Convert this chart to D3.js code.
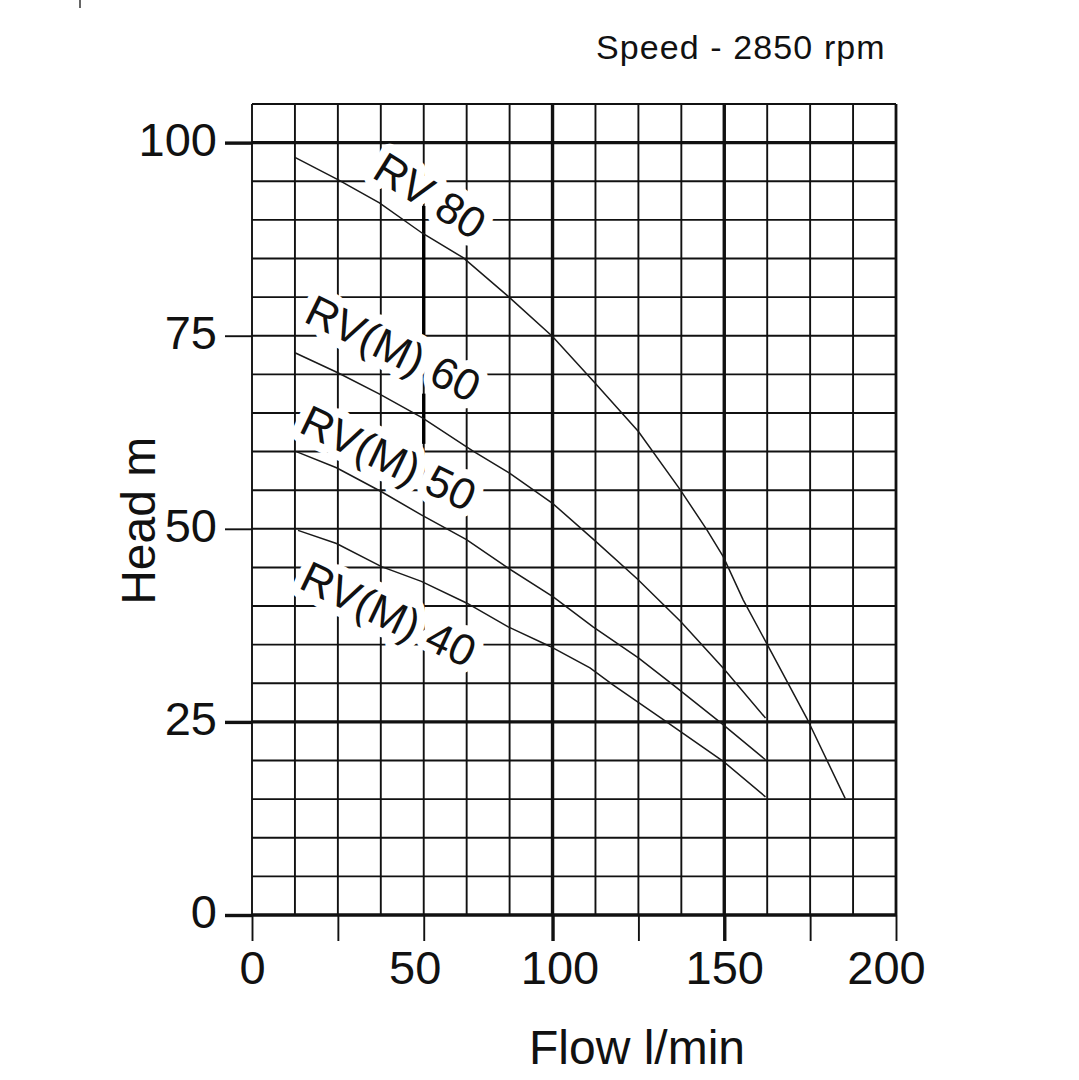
<!DOCTYPE html>
<html>
<head>
<meta charset="utf-8">
<script src="https://cdn.jsdelivr.net/npm/d3@7"></script>
<style>
  body { margin: 0; background: #fff; }
  text { font-family: "Liberation Sans", Arial, sans-serif; fill: #111; }
</style>
</head>
<body>
<svg id="chart" width="1079" height="1080"></svg>
<script>
// --- data ---
const flowLabels = [0, 50, 100, 150, 200];
const flowTickValues = [0, 25, 50, 100, 125, 150, 175, 200];
const headLabels = [0, 25, 50, 75, 100];
const seriesNames = ["RV 80", "RV(M) 60", "RV(M) 50", "RV(M) 40"];

// [flow l/min, head m]
const rv80 = [[12.5, 98.1], [25, 95.2], [37.1, 92.2], [49.5, 88.3], [65.3, 85.1], [82.8, 80.1],
  [100, 74.9], [112.3, 68.9], [125, 62.6], [137.1, 55.1], [144.9, 49.9], [149.7, 46.4],
  [155.5, 40.8], [162.3, 35.2], [174, 25.5], [185.2, 15.1]];
const rvm60 = [[12.5, 72.8], [25, 70.2], [37.3, 67.4], [49.5, 64.4], [69, 60.1], [83.3, 57.2],
  [100, 53.3], [112, 48.6], [124.7, 43.5], [137.3, 38], [149.8, 31.9], [162, 25.5]];
const rvm50 = [[12.9, 60.0], [24.6, 57.9], [37.7, 54.8], [49.3, 51.8], [66.6, 48.6], [82.8, 44.9],
  [100.2, 41.2], [111.8, 37.3], [125, 33.3], [135.1, 29.8], [149.2, 24.8], [162, 20.1]];
const rvm40 = [[13.4, 49.8], [24.6, 48.1], [37.7, 45.1], [49.3, 43.2], [66.6, 40.4], [82.8, 37.3],
  [98.9, 34.8], [110.9, 32.0], [117.6, 29.8], [133.2, 25.0], [149.7, 19.9], [162, 15.3]];

const curves = [rv80, rvm60, rvm50, rvm40];

const svg = d3.select("#chart");

// grid is 15 cells wide; the flow axis on the sheet is not uniform (50->100 spans 3 cells)
const cell = d3.scaleLinear().domain([0, 15]).range([252, 896]);
const x = d3.scaleLinear().domain([0, 50, 100, 200]).range([0, 4, 7, 15].map(cell));
const y = d3.scaleLinear().domain([0, 105]).range([915, 104]);

const grid = svg.append("g").attr("class", "grid");

// horizontal lines every 5 m
grid.selectAll(".hline")
  .data(d3.range(0, 106, 5))
  .enter().append("line")
  .attr("x1", cell(0)).attr("x2", cell(15))
  .attr("y1", d => y(d)).attr("y2", d => y(d))
  .attr("stroke", "#111")
  .attr("stroke-width", d => (d === 0 || d === 25 || d === 100) ? 3.4 : 1.9);

// vertical lines every cell
grid.selectAll(".vline")
  .data(d3.range(16))
  .enter().append("line")
  .attr("x1", d => cell(d)).attr("x2", d => cell(d))
  .attr("y1", y(105)).attr("y2", y(0))
  .attr("stroke", "#111")
  .attr("stroke-width", d => (d === 7 || d === 11) ? 3.4 : d === 15 ? 2.8 : 1.9);

// heavier piece of the 50 l/min line between the labels
grid.selectAll(".heavy")
  .data([[91.8, 75], [67.5, 61]])
  .enter().append("line")
  .attr("x1", x(50)).attr("x2", x(50))
  .attr("y1", d => y(d[0])).attr("y2", d => y(d[1]))
  .attr("stroke", "#000")
  .attr("stroke-width", 3.4);

// axes
const yAxis = svg.append("g")
  .attr("transform", `translate(${cell(0)},0)`)
  .call(d3.axisLeft(y).tickValues(headLabels).tickSize(27).tickPadding(8));
yAxis.select(".domain").remove();
yAxis.selectAll(".tick line").attr("stroke", "#111").attr("stroke-width", d => d === 75 || d === 50 ? 1.9 : 3.4);
yAxis.selectAll(".tick text")
  .attr("dy", "0.27em")
  .style("font-size", "47px")
  .attr("fill", "#111");

// the printed numbers sit a little off their ticks on the sheet
const labelNudge = { 50: -9, 100: 7, 200: -10 };
const xAxis = svg.append("g")
  .attr("transform", `translate(0,${y(0)})`)
  .call(d3.axisBottom(x).tickValues(flowTickValues).tickSize(26).tickPadding(10)
    .tickFormat(d => flowLabels.includes(d) ? d : ""));
xAxis.select(".domain").remove();
xAxis.selectAll(".tick line").attr("stroke", "#111")
  .attr("stroke-width", d => d === 100 || d === 150 ? 3.4 : 1.9);
xAxis.selectAll(".tick text")
  .attr("dx", d => labelNudge[d] || 0)
  .style("font-size", "47px")
  .attr("fill", "#111");

// curve labels with white knock-out behind them
const labelSpots = [
  { flow: 34.5, head: 95.6, angle: 32 },
  { flow: 14.6, head: 76.9, angle: 26 },
  { flow: 13.2, head: 62.6, angle: 25.5 },
  { flow: 13.2, head: 42.4, angle: 25.5 }
];
svg.append("g").selectAll("text")
  .data(seriesNames)
  .enter().append("text")
  .attr("transform", (d, i) => `translate(${x(labelSpots[i].flow)},${y(labelSpots[i].head)}) rotate(${labelSpots[i].angle})`)
  .style("font-size", "44px")
  .attr("stroke", "#fff")
  .attr("stroke-width", 18)
  .attr("stroke-linejoin", "round")
  .attr("paint-order", "stroke")
  .text(d => d);

// pump curves
const line = d3.line().x(d => x(d[0])).y(d => y(d[1]));
svg.append("g").selectAll("path")
  .data(curves)
  .enter().append("path")
  .attr("d", line)
  .attr("fill", "none")
  .attr("stroke", "#1a1a1a")
  .attr("stroke-width", 1.5);

// titles
svg.append("text")
  .attr("x", 596).attr("y", 59)
  .style("font-size", "34px")
  .style("letter-spacing", "1.1px")
  .text("Speed - 2850 rpm");

svg.append("text")
  .attr("transform", `translate(155,${y(50) - 8}) rotate(-90)`)
  .attr("text-anchor", "middle")
  .style("font-size", "48px")
  .text("Head m");

svg.append("text")
  .attr("x", 637).attr("y", 1064)
  .attr("text-anchor", "middle")
  .style("font-size", "48px")
  .text("Flow l/min");

// small stray mark at the top edge of the scan
svg.append("line")
  .attr("x1", 80).attr("x2", 80).attr("y1", 0).attr("y2", 8)
  .attr("stroke", "#333").attr("stroke-width", 1.5);
</script>
</body>
</html>
